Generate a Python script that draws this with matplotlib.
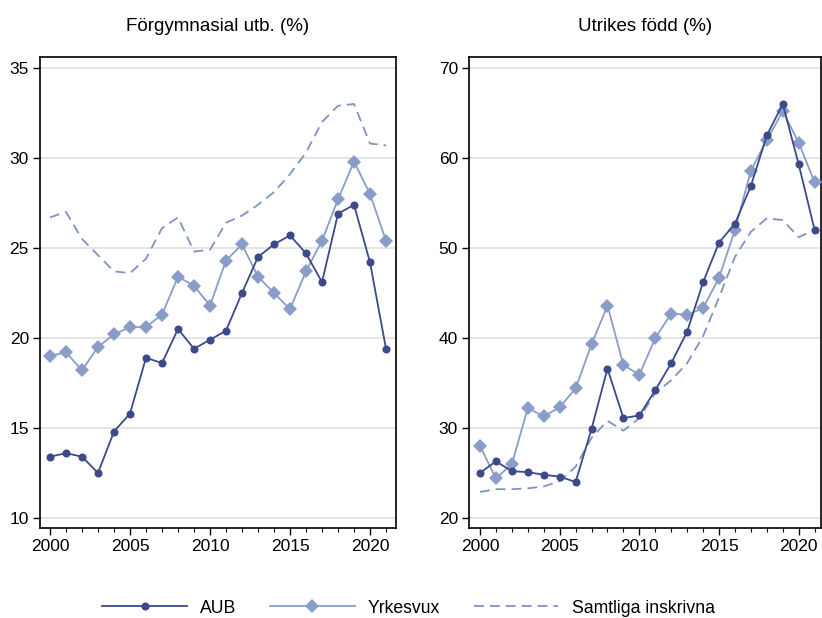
import matplotlib
matplotlib.use("Agg")
import matplotlib.pyplot as plt
from matplotlib.ticker import MultipleLocator

plt.rcParams['font.family'] = ['Liberation Sans', 'DejaVu Sans']

years = list(range(2000, 2022))

# Förgymnasial utb. (%)
aub_fg = [13.4, 13.6, 13.4, 12.5, 14.8, 15.8, 18.9, 18.6, 20.5, 19.4, 19.9, 20.4,
          22.5, 24.5, 25.2, 25.7, 24.7, 23.1, 26.9, 27.4, 24.2, 19.4]
yrk_fg = [19.0, 19.2, 18.2, 19.5, 20.2, 20.6, 20.6, 21.3, 23.4, 22.9, 21.8, 24.3,
          25.2, 23.4, 22.5, 21.6, 23.7, 25.4, 27.7, 29.8, 28.0, 25.4]
sam_fg = [26.7, 27.0, 25.5, 24.6, 23.7, 23.6, 24.4, 26.1, 26.7, 24.8, 24.9, 26.4,
          26.8, 27.4, 28.1, 29.1, 30.3, 32.0, 32.9, 33.0, 30.8, 30.7]

# Utrikes född (%)
aub_uf = [25.0, 26.3, 25.2, 25.1, 24.8, 24.6, 24.0, 29.9, 36.6, 31.1, 31.4, 34.2,
          37.2, 40.7, 46.2, 50.6, 52.7, 56.9, 62.5, 66.0, 59.3, 52.0]
yrk_uf = [28.0, 24.4, 26.0, 32.2, 31.3, 32.3, 34.4, 39.3, 43.6, 37.0, 35.9, 40.0,
          42.7, 42.6, 43.3, 46.7, 52.0, 58.6, 62.0, 65.2, 61.7, 57.3]
sam_uf = [22.9, 23.2, 23.2, 23.3, 23.5, 24.1, 25.7, 28.9, 30.8, 29.7, 31.1, 33.9,
          35.3, 37.2, 40.2, 44.5, 49.0, 51.8, 53.3, 53.1, 51.2, 52.0]

titles = ['Förgymnasial utb. (%)', 'Utrikes född (%)']
labels = ['AUB', 'Yrkesvux', 'Samtliga inskrivna']

c_aub = '#3d4a8a'
c_yrk = '#8a9cc8'
c_sam = '#7f93c2'

fig = plt.figure(figsize=(8.22, 6.18), dpi=100)
ax1 = fig.add_axes([40/822, 1-528/618, 356/822, 471/618])
ax2 = fig.add_axes([469/822, 1-528/618, 352/822, 471/618])

panels = [
    (ax1, aub_fg, yrk_fg, sam_fg, (9.44, 35.61), [10, 15, 20, 25, 30, 35], (1999.375, 2021.625)),
    (ax2, aub_uf, yrk_uf, sam_uf, (18.89, 71.22), [20, 30, 40, 50, 60, 70], (1999.31, 2021.4)),
]

handles = None
for i, (ax, a, yv, s, ylim, yt, xlim) in enumerate(panels):
    ax.grid(axis='y', color='#e0e0e0', lw=1.2, zorder=0)
    ax.set_axisbelow(True)
    h3, = ax.plot(years, s, color=c_sam, lw=1.3, dashes=(5.5, 3.3), zorder=2)
    h2, = ax.plot(years, yv, color=c_yrk, lw=1.3, marker='D', ms=7.2,
                  markeredgewidth=0, zorder=3)
    h1, = ax.plot(years, a, color=c_aub, lw=1.3, marker='o', ms=5.8,
                  markeredgewidth=0, zorder=4)
    handles = [h1, h2, h3]
    ax.set_xlim(*xlim)
    ax.set_ylim(*ylim)
    ax.set_yticks(yt)
    ax.set_xticks([2000, 2005, 2010, 2015, 2020])
    ax.xaxis.set_minor_locator(MultipleLocator(1))
    ax.tick_params(axis='both', which='major', direction='out', length=5, width=1,
                   labelsize=12.5, colors='black', pad=3)
    ax.tick_params(axis='x', which='minor', direction='out', length=3, width=0.8)
    for sp in ax.spines.values():
        sp.set_linewidth(1.2)
        sp.set_color('black')
    ax.set_title(titles[i], fontsize=13.5, pad=19)

fig.legend(handles, labels, loc='center', bbox_to_anchor=(0.497, 0.016), ncol=3,
           frameon=False, fontsize=12.7, handlelength=4.8, columnspacing=1.9,
           handletextpad=0.75)

fig.savefig('out.png', dpi=100)
